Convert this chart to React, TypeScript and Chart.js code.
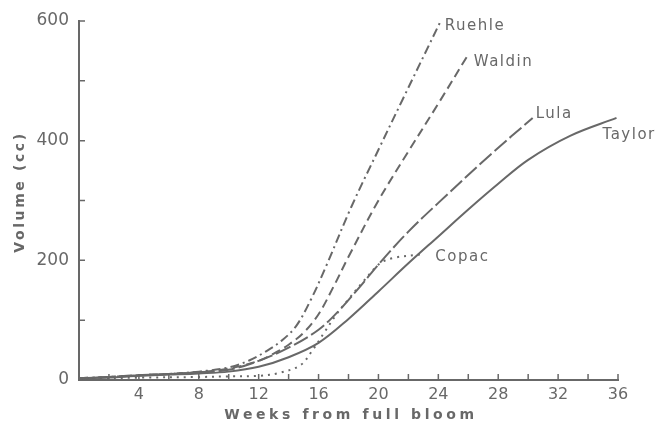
import React, { useEffect, useRef } from "react";
import { Chart, registerables } from "chart.js";

Chart.register(...registerables);

// Weeks from full bloom / volume (cc) for each cultivar
const ruehleWeeks = [0, 2, 4, 6, 8, 10, 11.4, 12.5, 13.5, 14.5, 15.5, 16.5, 18.2, 20.1, 21.6, 24.1];
const ruehleVolume = [3, 5, 8, 10, 14, 21, 33, 48, 65, 90, 135, 190, 290, 390, 468, 597];

const waldinWeeks = [0, 2, 4, 6, 8, 10, 12, 13, 14, 15, 16, 17, 18, 20, 22, 24, 25.9];
const waldinVolume = [3, 5, 8, 10, 13, 19, 32, 44, 59, 79, 110, 156, 206, 300, 382, 462, 540];

const lulaWeeks = [0, 2, 4, 6, 8, 10, 12, 14, 16, 17.4, 18.8, 20, 22, 24, 27.5, 30.3];
const lulaVolume = [3, 5, 8, 10, 13, 17, 32, 54, 84, 117, 157, 193, 248, 296, 377, 438];

const taylorWeeks = [0, 2, 4, 6, 8, 10, 12, 14, 16, 18, 20, 22, 24, 26, 28, 30, 32.8, 35.9];
const taylorVolume = [3, 4, 7, 9, 11, 14, 22, 38, 62, 102, 148, 195, 240, 285, 328, 368, 408, 438];

const copacWeeks = [0, 4, 8, 10, 12, 13.4, 14.8, 15.6, 16.4, 17.2, 18, 19, 20.1, 21, 22.8];
const copacVolume = [2, 4, 5, 6, 7, 12, 25, 50, 80, 110, 135, 165, 195, 204, 210];

const seriesNames = ["Ruehle", "Waldin", "Lula", "Taylor", "Copac"];
const xTickStep = 4;
const yTickStep = 200;

const INK = "#686868";

const toPoints = (w: number[], v: number[]) => w.map((x, i) => ({ x, y: v[i] }));

const labelOffsets: Record<string, [number, number]> = {
  Ruehle: [5, 3],
  Waldin: [7, 5],
  Lula: [3, -4],
  Taylor: [-14, 17],
  Copac: [15, 3],
};

const decorPlugin = {
  id: "decor",
  afterDraw(chart: any) {
    const ctx = chart.ctx as CanvasRenderingContext2D;
    const xs = chart.scales.x;
    const ys = chart.scales.y;
    const area = chart.chartArea;
    ctx.save();
    // inward tick marks
    ctx.strokeStyle = INK;
    ctx.lineWidth = 1.5;
    ctx.beginPath();
    for (let w = 2; w <= 36; w += 2) {
      const px = xs.getPixelForValue(w);
      ctx.moveTo(px, area.bottom);
      ctx.lineTo(px, area.bottom - 6);
    }
    for (let v = 100; v <= 600; v += 100) {
      const py = ys.getPixelForValue(v);
      ctx.moveTo(area.left, py);
      ctx.lineTo(area.left + 6, py);
    }
    ctx.stroke();

    // series labels
    ctx.fillStyle = INK;
    ctx.font = "15px 'DejaVu Sans'";
    (ctx as any).letterSpacing = "1.5px";
    ctx.textBaseline = "middle";
    ctx.textAlign = "left";
    chart.data.datasets.forEach((ds: any, i: number) => {
      const meta = chart.getDatasetMeta(i);
      const last = meta.data[meta.data.length - 1];
      const off = labelOffsets[ds.label] || [5, 0];
      ctx.fillText(ds.label, last.x + off[0], last.y + off[1]);
    });

    // axis titles
    ctx.font = "bold 14px 'DejaVu Sans'";
    (ctx as any).letterSpacing = "3.6px";
    ctx.textAlign = "center";
    ctx.fillText("Weeks from full bloom", 351, 415);
    ctx.translate(20, 192);
    ctx.rotate(-Math.PI / 2);
    (ctx as any).letterSpacing = "2.6px";
    ctx.fillText("Volume (cc)", 0, 0);
    ctx.restore();
  },
};

export default function App() {
  const ref = useRef<HTMLCanvasElement | null>(null);
  useEffect(() => {
    if (!ref.current) return;
    const mk = (label: string, w: number[], v: number[], dash: number[]) => ({
      label,
      data: toPoints(w, v),
      borderColor: INK,
      borderWidth: 2,
      borderDash: dash,
      pointRadius: 0,
      tension: 0.35,
      fill: false,
    });
    const chart = new Chart(ref.current, {
      type: "line",
      data: {
        datasets: [
          mk(seriesNames[0], ruehleWeeks, ruehleVolume, [9, 4, 2, 4]),
          mk(seriesNames[1], waldinWeeks, waldinVolume, [9, 5]),
          mk(seriesNames[2], lulaWeeks, lulaVolume, [16, 4]),
          mk(seriesNames[3], taylorWeeks, taylorVolume, []),
          mk(seriesNames[4], copacWeeks, copacVolume, [2, 5]),
        ],
      },
      options: {
        animation: false,
        responsive: false,
        maintainAspectRatio: false,
        layout: { padding: { left: 0, top: 21, right: 42, bottom: 0 } },
        plugins: { legend: { display: false }, tooltip: { enabled: false } },
        scales: {
          x: {
            type: "linear",
            min: 0,
            max: 36,
            afterFit: (s: any) => {
              s.height = 46;
            },
            grid: { display: false, drawTicks: false },
            border: { display: true, color: INK, width: 2 },
            ticks: {
              stepSize: xTickStep,
              padding: 5,
              color: INK,
              font: { family: "'DejaVu Sans'", size: 16 },
              callback: (v: any) => (v === 0 ? "" : String(v)),
            },
          },
          y: {
            type: "linear",
            min: 0,
            max: 600,
            afterFit: (s: any) => {
              s.width = 79;
            },
            grid: { display: false, drawTicks: false },
            border: { display: true, color: INK, width: 2 },
            ticks: {
              stepSize: yTickStep,
              padding: 10,
              color: INK,
              font: { family: "'DejaVu Sans'", size: 17 },
            },
          },
        },
      },
      plugins: [decorPlugin],
    });
    return () => chart.destroy();
  }, []);
  return (
    <div style={{ position: "fixed", left: 0, top: 0, width: 660, height: 426, background: "#fff" }}>
      <canvas ref={ref} width={660} height={426} style={{ width: 660, height: 426 }} />
    </div>
  );
}
